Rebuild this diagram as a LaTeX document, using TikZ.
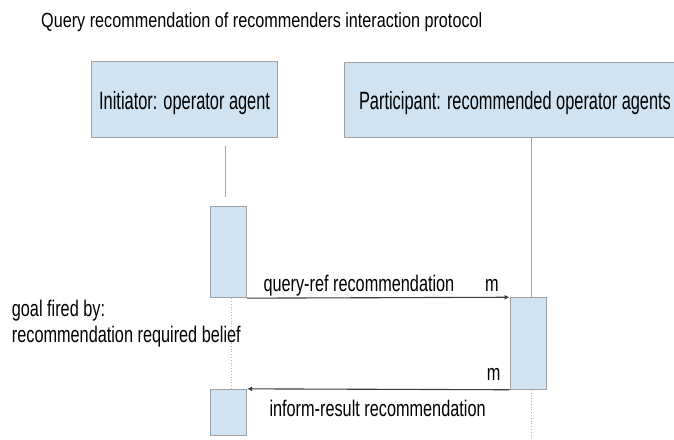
\documentclass[tikz,border=0pt]{standalone}
\usepackage{fontspec}
\setmainfont{Liberation Sans}
\newfontfamily\titlefont{Liberation Sans}[FakeStretch=0.79]
\newfontfamily\boxfont{Liberation Sans}[FakeStretch=0.655]
\newfontfamily\labfont{Liberation Sans}[FakeStretch=0.72]
\usetikzlibrary{arrows.meta}
\definecolor{boxfill}{RGB}{207,227,242}
\definecolor{boxline}{RGB}{160,160,160}
\definecolor{lifeline}{RGB}{168,168,168}
\definecolor{lifedotc}{RGB}{180,180,180}
\definecolor{msgc}{RGB}{60,60,60}
\tikzset{
  rolebox/.style={draw=boxline, fill=boxfill, line width=0.9pt, inner sep=0pt,
    font=\boxfont\fontsize{25}{29}\selectfont, text height=21.5pt, text depth=1.5pt},
  actbox/.style={draw=boxline, fill=boxfill, line width=0.9pt, inner sep=0pt},
  life/.style={draw=lifeline, line width=0.8pt},
  lifedot/.style={draw=lifedotc, line width=0.8pt, dotted},
  msg/.style={draw=msgc, line width=1.1pt, -{Latex[length=5pt,width=5pt]}},
  lab/.style={anchor=base west, inner sep=0pt, font=\labfont\fontsize{22.6}{26}\selectfont},
  titlelab/.style={anchor=base west, inner sep=0pt, font=\titlefont\fontsize{20.5}{24}\selectfont}
}
\begin{document}
\begin{tikzpicture}[x=1pt, y=-1pt]
\useasboundingbox (0,0) rectangle (674,439);
% title
\node[titlelab] (title) at (41,27.3) {Query recommendation of recommenders interaction protocol};
% role boxes
\node[rolebox, minimum width=186.2pt, minimum height=76pt] (box1) at (184.6,99.75) {Initiator: operator agent};
\node[rolebox, minimum width=340.6pt, minimum height=75pt] (box2) at (515,99.8) {Participant: recommended operator agents};
% activation boxes
\node[actbox, minimum width=35.6pt, minimum height=91.7pt] (a1) at (228.5,251.85) {};
\node[actbox, minimum width=36.7pt, minimum height=91.6pt] (a2) at (528.35,343.5) {};
\node[actbox, minimum width=36pt, minimum height=45.7pt] (a3) at (228.7,412.15) {};
% lifeline coordinates
\coordinate (l1a) at (225.7,145.7);
\coordinate (l1b) at (225.7,197);
\coordinate (l1x) at (231,0);
\coordinate (l2x) at (531,0);
\coordinate (l2end) at (531,439);
% lifelines
\draw[life] (l1a) -- (l1b);
\draw[lifedot] (a1.south -| l1x) -- (a3.north -| l1x);
\draw[life] (box2.south -| l2x) -- (a2.north -| l2x);
\draw[lifedot] (a2.south -| l2x) -- (l2end);
% messages
\draw[msg] (a1.south east) -- (a2.north west);
\draw[msg] (a2.south west) -- (a3.north east);
% labels
\node[lab] (q1) at (263.3,291) {query-ref recommendation};
\node[lab] (m1) at (485,291.7) {m};
\node[lab] (m2) at (486.7,380.7) {m};
\node[lab] (ir) at (269.3,416.7) {inform-result recommendation};
\node[lab] (g1) at (11.7,316) {goal fired by:};
\node[lab] (g2) at (11.7,342.7) {recommendation required belief};
\end{tikzpicture}
\end{document}
